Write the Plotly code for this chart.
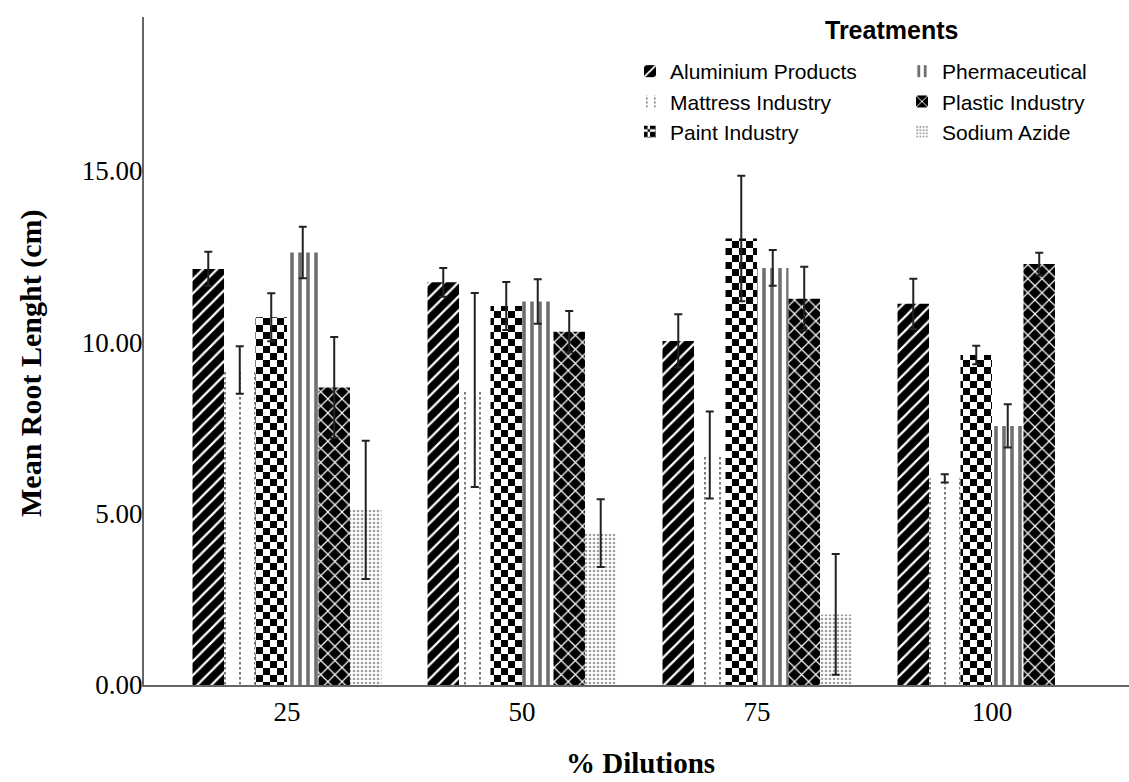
import plotly.graph_objects as go

# % dilution levels on the x axis
dilutions = ["25", "50", "75", "100"]

# Mean root length (cm) and error-bar half widths for each treatment
aluminium = [12.14, 11.75, 10.04, 11.12]
aluminium_err = [0.50, 0.42, 0.78, 0.73]

mattress = [9.19, 8.61, 6.71, 6.03]
mattress_err = [0.69, 2.83, 1.27, 0.12]

paint = [10.73, 11.06, 13.03, 9.63]
paint_err = [0.70, 0.70, 1.83, 0.27]

pharma = [12.62, 11.19, 12.17, 7.56]
pharma_err = [0.75, 0.65, 0.52, 0.63]

plastic = [8.68, 10.31, 11.27, 12.28]
plastic_err = [1.47, 0.60, 0.93, 0.33]

sodium = [5.11, 4.43, 2.06, None]
sodium_err = [2.02, 0.99, 1.76, None]

y_ticks = [0, 5, 10, 15]

# Plot-area geometry in pixels
W, H = 1129, 782
L, R, T, B = 144, 0, 17, 97
PW, PH = W - L - R, H - T - B


def px(x):
    return (x - L) / PW


def py(y):
    return (H - B - y) / PH


checker = "M0,0H7V7H0Z M7,7H14V14H7Z"
dashes = "M5,0h2v2.5h-2Z M5,5h2v2.5h-2Z M5,10h2v2.5h-2Z"

series = [
    ("Aluminium Products", aluminium, aluminium_err,
     dict(shape="/", bgcolor="black", fgcolor="white", size=10, solidity=0.22), "legend", 1),
    ("Mattress Industry", mattress, mattress_err,
     dict(path=dashes, bgcolor="white", fgcolor="#7a7a7a", size=15), "legend", 2),
    ("Paint Industry", paint, paint_err,
     dict(path=checker, bgcolor="white", fgcolor="black", size=14), "legend", 3),
    ("Phermaceutical", pharma, pharma_err,
     dict(shape="|", bgcolor="white", fgcolor="#707070", size=8, solidity=0.45), "legend2", 1),
    ("Plastic Industry", plastic, plastic_err,
     dict(shape="x", bgcolor="black", fgcolor="white", size=10, solidity=0.22), "legend2", 2),
    ("Sodium Azide", sodium, sodium_err,
     dict(shape=".", bgcolor="white", fgcolor="#a0a0a0", size=4, solidity=0.35), "legend2", 3),
]

fig = go.Figure()
for name, vals, errs, pat, leg, rank in series:
    fig.add_trace(go.Bar(
        x=dilutions, y=vals, name=name,
        marker=dict(color="white", line=dict(width=0), pattern=dict(fgopacity=1, **pat)),
        error_y=dict(type="data", array=errs, visible=True,
                     color="#222222", thickness=2, width=4),
        legend=leg, legendrank=rank,
    ))

legend_font = dict(family="Liberation Sans, Arial, sans-serif", size=21, color="black")

fig.update_layout(
    width=W, height=H,
    margin=dict(l=L, r=R, t=T, b=B, autoexpand=False),
    paper_bgcolor="white", plot_bgcolor="white",
    barmode="group", bargap=0.196, bargroupgap=0,
    showlegend=True,
    legend=dict(x=px(630), y=py(51), xanchor="left", yanchor="top",
                font=legend_font, bgcolor="rgba(0,0,0,0)", tracegroupgap=0),
    legend2=dict(x=px(902), y=py(51), xanchor="left", yanchor="top",
                 font=legend_font, bgcolor="rgba(0,0,0,0)", tracegroupgap=0),
    xaxis=dict(
        type="category", range=[-0.6085, 3.583],
        showline=True, linecolor="#666666", linewidth=2,
        ticks="", showgrid=False, zeroline=False,
        tickfont=dict(family="Liberation Serif, Times New Roman, serif", size=27, color="black"),
        ticklabelstandoff=2,
    ),
    yaxis=dict(
        range=[0, 19.49], tickvals=y_ticks, tickformat=".2f",
        showline=True, linecolor="#666666", linewidth=2,
        ticks="", showgrid=False, zeroline=False,
        tickfont=dict(family="Liberation Serif, Times New Roman, serif", size=27, color="black"),
        ticklabelstandoff=-6,
    ),
    annotations=[
        dict(text="<b>Mean Root Lenght (cm)</b>", xref="paper", yref="paper",
             x=px(31), y=py(364), textangle=-90, showarrow=False,
             xanchor="center", yanchor="middle",
             font=dict(family="Liberation Serif, Times New Roman, serif", size=30, color="black")),
        dict(text="<b>% Dilutions</b>", xref="paper", yref="paper",
             x=px(640), y=py(763), showarrow=False,
             xanchor="center", yanchor="middle",
             font=dict(family="Liberation Serif, Times New Roman, serif", size=29, color="black")),
        dict(text="<b>Treatments</b>", xref="paper", yref="paper",
             x=px(891), y=py(30), showarrow=False,
             xanchor="center", yanchor="middle",
             font=dict(family="Liberation Sans, Arial, sans-serif", size=25, color="black")),
    ],
)

fig.write_html("out.html")
